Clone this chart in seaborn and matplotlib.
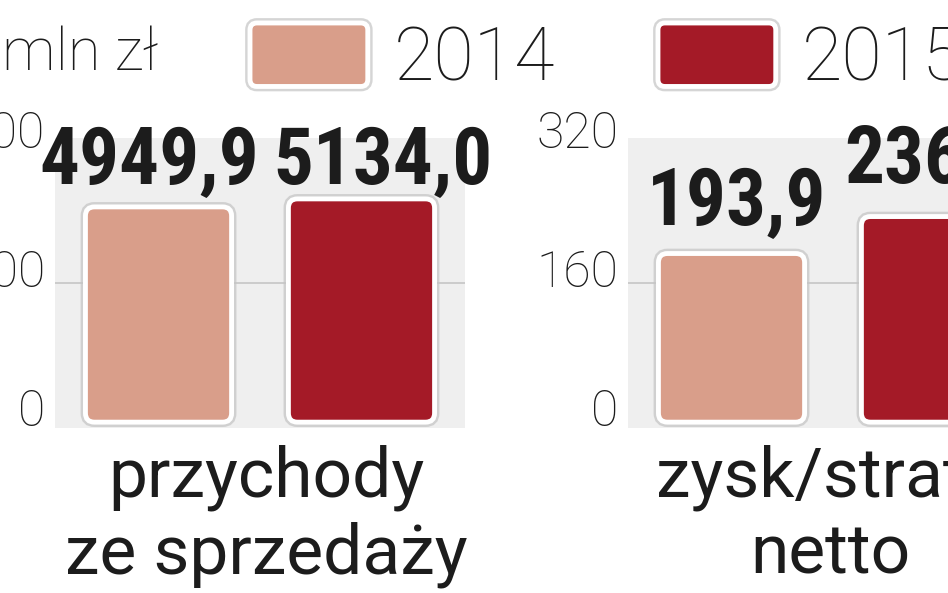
"""
Revenue and net profit 2014 vs 2015, two small bar panels
"""
import matplotlib
matplotlib.use('Agg')
import matplotlib.pyplot as plt
import pandas as pd
import seaborn as sns
from matplotlib import font_manager
from matplotlib import patheffects
from matplotlib.legend_handler import HandlerPatch
from matplotlib.patches import FancyBboxPatch
from matplotlib.patches import Patch
from matplotlib.transforms import ScaledTranslation

YEARS = ['2014', '2015']
COLORS = ['#d99e8a', '#a41a27']
UNIT = 'mln zł'
METRICS = ['przychody\nze sprzedaży', 'zysk/strata\nnetto']
REVENUE = [4949.9, 5134.0]
NET_PROFIT = [193.9, 236.4]
REVENUE_TICKS = [0, 3200, 6400]
PROFIT_TICKS = [0, 160, 320]

FIGSIZE = (9.48, 5.93)
DPI = 100
TEXT = '#1c1c1c'


def pick_family(candidates, **kwargs):
    for family in candidates:
        try:
            font_manager.findfont(font_manager.FontProperties(family=family, **kwargs),
                                  fallback_to_default=False)
            return family
        except ValueError:
            continue
    return 'DejaVu Sans'


LIGHT = pick_family(['Roboto', 'Lato', 'Open Sans'])
BOLD = pick_family(['Liberation Sans Narrow', 'Noto Sans ExtraCondensed', 'Noto Sans Condensed',
                    'Roboto Condensed', 'Roboto'])

# white frame with a soft grey ring round it, as on the reference tiles
FRAME = [patheffects.Stroke(linewidth=7, foreground='#c4c4c4', alpha=0.7), patheffects.Normal()]


class RoundHandler(HandlerPatch):
    def create_artists(self, legend, orig_handle, xdescent, ydescent, width, height, fontsize, trans):
        box = FancyBboxPatch((-xdescent, -ydescent), width, height,
                             boxstyle='round,pad=0,rounding_size=5',
                             facecolor=orig_handle.get_facecolor(), edgecolor='white', linewidth=3.5,
                             path_effects=FRAME)
        box.set_transform(trans)
        return [box]


def round_bars(fig, ax):
    fig.canvas.draw()
    extent = ax.get_window_extent()
    x0, x1 = ax.get_xlim()
    y0, y1 = ax.get_ylim()
    px_x = extent.width / (x1 - x0)
    px_y = extent.height / (y1 - y0)
    for bar in list(ax.patches):
        x, y = bar.get_xy()
        box = FancyBboxPatch((x, y), bar.get_width(), bar.get_height(),
                             boxstyle='round,pad=0,rounding_size={}'.format(9 / px_x),
                             mutation_aspect=px_x / px_y,
                             facecolor=bar.get_facecolor(), edgecolor='white', linewidth=3.5, zorder=3,
                             path_effects=FRAME)
        ax.add_patch(box)
        bar.set_visible(False)


def draw_panel(fig, ax, values, ticks, metric, label_dx, label_gap, metric_dx):
    df = pd.DataFrame({'year': YEARS, 'value': values})
    sns.barplot(data=df, x='year', y='value', hue='year', palette=COLORS, width=0.72,
                saturation=1, ax=ax, legend=False)
    top = ticks[-1]
    ax.set_ylim(-0.021 * top, 1.021 * top)
    ax.set_xlim(-0.51, 1.51)
    ax.set_facecolor('#efefef')
    for spine in ax.spines.values():
        spine.set_visible(False)
    ax.axhline(ticks[1], color='#c9c9c9', linewidth=1.3, zorder=1)
    ax.set_xticks([])
    ax.set_xlabel('')
    ax.set_ylabel('')
    ax.set_yticks(ticks)
    ax.set_yticklabels([str(t) for t in ticks])
    ax.tick_params(axis='y', length=0, pad=7, labelsize=36, labelcolor=TEXT)
    shift = ScaledTranslation(0, 10.5 / 72, fig.dpi_scale_trans)
    for label in ax.get_yticklabels():
        label.set_fontweight('light')
        label.set_transform(label.get_transform() + shift)
    round_bars(fig, ax)
    for i, value in enumerate(values):
        ax.annotate('{:.1f}'.format(value).replace('.', ','), xy=(i, value),
                    xytext=(label_dx[i] * 0.72, label_gap[i] * 0.72), textcoords='offset points',
                    ha='center', va='baseline', fontsize=57, fontweight='bold', family=BOLD,
                    color=TEXT, zorder=5, annotation_clip=False)
    ax.annotate(metric, xy=(0.5, 0), xycoords='axes fraction', xytext=(metric_dx * 0.72, -145 * 0.72),
                textcoords='offset points', ha='center', va='baseline', fontsize=50,
                fontweight='normal', linespacing=1.2, color=TEXT, annotation_clip=False)


if __name__ == '__main__':
    sns.set_style('white')
    plt.rcParams['font.family'] = [LIGHT, 'DejaVu Sans']

    fig = plt.figure(figsize=FIGSIZE, dpi=DPI)
    fig.patch.set_facecolor('white')
    ax_revenue = fig.add_axes([55 / 948, 165 / 593, 410 / 948, 290 / 593])
    ax_profit = fig.add_axes([628 / 948, 165 / 593, 410 / 948, 290 / 593])

    draw_panel(fig, ax_revenue, REVENUE, REVENUE_TICKS, METRICS[0], [-9, 21], [23, 15], 6)
    draw_panel(fig, ax_profit, NET_PROFIT, PROFIT_TICKS, METRICS[1], [5, 0], [29, 34], -3)

    fig.text(2 / 948, 1 - 54 / 593, UNIT, ha='left', va='center', fontsize=43,
             fontweight='light', color=TEXT)
    handles = [Patch(facecolor=c, label=y) for c, y in zip(COLORS, YEARS)]
    fig.legend(handles=handles, loc='center left', bbox_to_anchor=(250 / 948, 1 - 59 / 593),
               ncol=2, frameon=False, borderpad=0, borderaxespad=0,
               handlelength=1.6, handleheight=0.95, handletextpad=0.35, columnspacing=1.4,
               prop=font_manager.FontProperties(family=[LIGHT, 'DejaVu Sans'], weight='light', size=53),
               labelcolor=TEXT, handler_map={Patch: RoundHandler()})

    fig.savefig('out.png', dpi=DPI)
    plt.close(fig)
